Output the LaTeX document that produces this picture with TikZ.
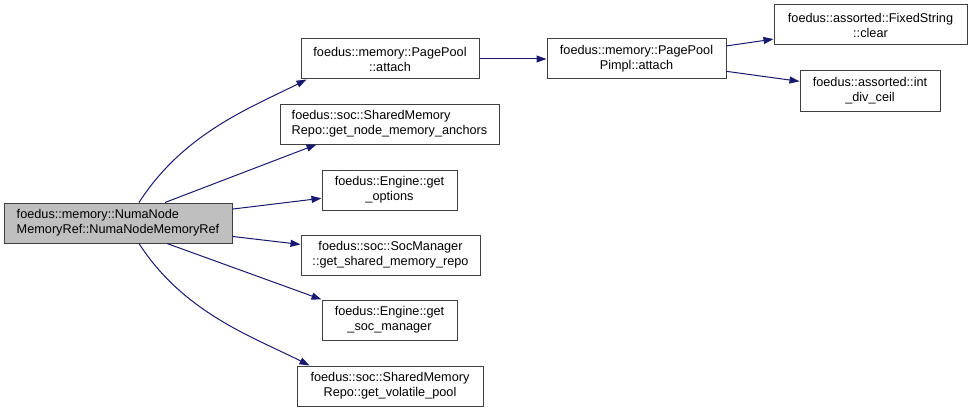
\documentclass[tikz,border=0pt]{standalone}
\usepackage{fontspec}
\setmainfont{Liberation Sans}
\usetikzlibrary{graphs}
\usetikzlibrary{arrows.meta}

\definecolor{edgeblue}{HTML}{191970}
\definecolor{boxline}{HTML}{404040}
\definecolor{rootfill}{HTML}{BFBFBF}

\begin{document}
\begin{tikzpicture} [x=1pt, y=-1pt,
            fn/.style={draw=boxline, line width=1pt, rectangle, align=center, inner sep=0pt,
                minimum height=40pt, font=\fontsize{12.7}{15}\selectfont},
            rootfn/.style={fn, fill=rootfill, align=left},
            call/.style={draw=edgeblue, line width=1pt, -{Triangle[length=10pt,width=7pt]}, fill=none}]
            \useasboundingbox (0,0) rectangle (972,412);

            \node[rootfn, minimum width=228pt] (root) at (118, 223)
                {foedus::memory::NumaNode\\MemoryRef::NumaNodeMemoryRef};

            \node[fn, minimum width=178pt] (attach)   at (390, 59)    {foedus::memory::PagePool\\::attach};
            \node[fn, minimum width=219pt, align=left] (anchors) at (389.5, 124)
                {foedus::soc::SharedMemory\\Repo::get\_node\_memory\_anchors};
            \node[fn, minimum width=135pt] (options)  at (389.5, 190) {foedus::Engine::get\\\_options};
            \node[fn, minimum width=179pt] (shmrepo)  at (390.5, 255) {foedus::soc::SocManager\\::get\_shared\_memory\_repo};
            \node[fn, minimum width=135pt] (socmgr)   at (389.5, 320) {foedus::Engine::get\\\_soc\_manager};
            \node[fn, minimum width=186pt] (volpool)  at (390, 386)   {foedus::soc::SharedMemory\\Repo::get\_volatile\_pool};

            \node[fn, minimum width=179pt] (pimpl)    at (636.5, 59)  {foedus::memory::PagePool\\Pimpl::attach};
            \node[fn, minimum width=193pt] (fixclear) at (870.5, 25)  {foedus::assorted::FixedString\\::clear};
            \node[fn, minimum width=140pt] (divceil)  at (870, 91)    {foedus::assorted::int\\\_div\_ceil};


            \graph[edges={call}] {
                (attach) -- (pimpl) -- (fixclear);
                (pimpl) -- (divceil);
                (root) -- (options);
                (root) -- (shmrepo);
            };

            % curved calls out of the root
            \draw[call] ([xshift=21pt]root.north) .. controls +(45,-70) and +(-55,28) .. ([xshift=6pt]attach.south west);
            \draw[call] ([xshift=47pt]root.north) -- ([xshift=37pt]anchors.south west);
            \draw[call] ([xshift=49pt]root.south) -- (socmgr.north west);
            \draw[call] ([xshift=21pt]root.south) .. controls +(45,70) and +(-55,-28) .. ([xshift=13pt]volpool.north west);
        \end{tikzpicture}
\end{document}
